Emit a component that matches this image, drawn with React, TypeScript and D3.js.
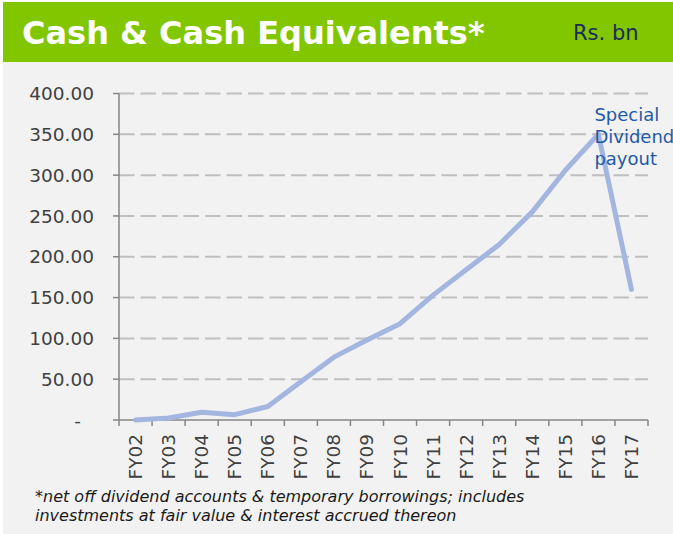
import React from "react";
import * as d3 from "d3";

const categories = ["FY02","FY03","FY04","FY05","FY06","FY07","FY08","FY09","FY10","FY11","FY12","FY13","FY14","FY15","FY16","FY17"];
const cashValues = [0, 2.5, 9.5, 6.5, 16.5, 47, 77, 98, 118, 153, 184, 215, 255, 306, 350, 160];
const yTicks = [0, 50, 100, 150, 200, 250, 300, 350, 400];
const titleText = "Cash & Cash Equivalents*";
const unitText = "Rs. bn";
const annotationLines = ["Special", "Dividend", "payout"];
const footnoteLines = [
  "*net off dividend accounts & temporary borrowings; includes",
  "investments at fair value & interest accrued thereon",
];

const W = 673, H = 534;
const plot = { left: 119, right: 648, top: 93.5, bottom: 420 };

export default function App() {
  const x = d3.scaleBand<string>().domain(categories).range([plot.left, plot.right]).padding(0);
  const y = d3.scaleLinear().domain([0, 400]).range([plot.bottom, plot.top]);
  const cx = (c: string) => (x(c) as number) + x.bandwidth() / 2;
  const line = d3.line<number>().x((_, i) => cx(categories[i])).y((d) => y(d));
  const font = "'DejaVu Sans', Verdana, sans-serif";
  const axisColor = "#868686";
  const textColor = "#404040";
  const peakIdx = 14;

  return (
    <svg width={W} height={H} style={{ position: "absolute", left: 0, top: 0 }} fontFamily={font}>
      <rect x={0} y={0} width={W} height={H} fill="#ffffff" />
      <rect x={3} y={62} width={W - 3} height={H - 62} fill="#f2f2f2" />
      <rect x={3} y={2} width={W - 3} height={60} fill="#82c600" />
      <text x={22} y={44} fill="#ffffff" fontSize={32} fontWeight="bold">{titleText}</text>
      <text x={573} y={40} fill="#1b2b5e" fontSize={21}>{unitText}</text>

      {/* gridlines */}
      {yTicks.filter((t) => t > 0).map((t) => (
        <line key={"g" + t} x1={plot.left} x2={plot.right} y1={y(t)} y2={y(t)}
          stroke="#bfbfbf" strokeWidth={2} strokeDasharray="15.5,6" />
      ))}

      {/* y axis */}
      <line x1={plot.left} x2={plot.left} y1={plot.top} y2={plot.bottom} stroke={axisColor} strokeWidth={1.5} />
      {yTicks.map((t) => (
        <g key={"y" + t}>
          <line x1={plot.left - 6} x2={plot.left} y1={y(t)} y2={y(t)} stroke={axisColor} strokeWidth={1.5} />
          <text x={t === 0 ? 81 : 94} y={y(t)} dy="0.36em" textAnchor="end" fontSize={18.5} fill={textColor}>
            {t === 0 ? "-" : d3.format(".2f")(t)}
          </text>
        </g>
      ))}

      {/* x axis */}
      <line x1={plot.left} x2={plot.right} y1={plot.bottom} y2={plot.bottom} stroke={axisColor} strokeWidth={1.5} />
      {categories.map((c, i) => (
        <line key={"xt" + i} x1={x(c) as number} x2={x(c) as number} y1={plot.bottom} y2={plot.bottom + 6} stroke={axisColor} strokeWidth={1.5} />
      ))}
      <line x1={plot.right} x2={plot.right} y1={plot.bottom} y2={plot.bottom + 6} stroke={axisColor} strokeWidth={1.5} />
      {categories.map((c) => (
        <text key={"xl" + c} transform={`translate(${cx(c) + 6.5},${434}) rotate(-90)`} textAnchor="end"
          fontSize={18.5} fill={textColor}>{c}</text>
      ))}

      {/* series */}
      <path d={line(cashValues) || ""} fill="none" stroke="#a3b6e0" strokeWidth={5} strokeLinejoin="round" strokeLinecap="round" />

      {/* annotation */}
      <text x={cx(categories[peakIdx]) - 4} y={121} fill="#1f5aa6" fontSize={18}>
        {annotationLines.map((l, i) => (
          <tspan key={i} x={cx(categories[peakIdx]) - 4} dy={i === 0 ? 0 : 22}>{l}</tspan>
        ))}
      </text>

      {/* footnote */}
      {footnoteLines.map((l, i) => (
        <text key={"f" + i} x={35} y={502 + i * 19} fontSize={16} fontStyle="italic" fill="#1a1a1a">{l}</text>
      ))}
    </svg>
  );
}
